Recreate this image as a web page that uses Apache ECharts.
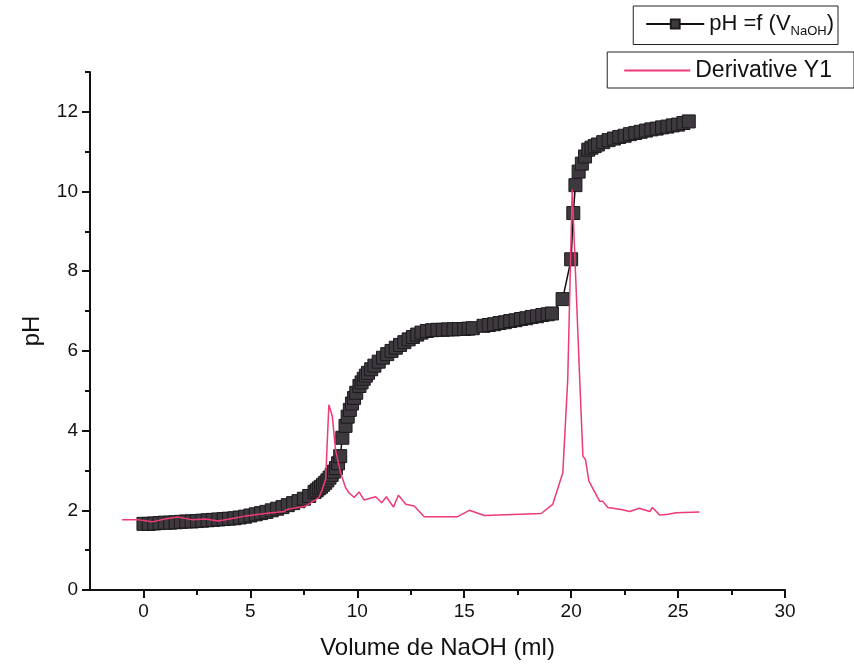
<!DOCTYPE html>
<html lang="en">
<head>
    <meta charset="UTF-8">
    <title>pH titration</title>
    <script src="https://cdn.jsdelivr.net/npm/echarts@6/dist/echarts.min.js"></script>
    <style>
        html, body { margin: 0; padding: 0; background: #fff; }
        #main { width: 854px; height: 665px; }
    </style>
</head>
<body>
<div id="main"></div>
<script>
    // volume NaOH (ml) and pH
    var volume = [0, 0.25, 0.5, 0.75, 1, 1.25, 1.5, 1.75, 2, 2.25, 2.5, 2.75, 3, 3.25, 3.5, 3.75, 4, 4.25, 4.5, 4.75,
        5, 5.25, 5.5, 5.75, 6, 6.25, 6.5, 6.75, 7, 7.25, 7.5, 7.75, 8, 8.1, 8.2, 8.3, 8.4, 8.5, 8.6, 8.7,
        8.8, 8.9, 9, 9.1, 9.2, 9.3, 9.45, 9.55, 9.65, 9.75, 9.85, 9.95, 10.1, 10.2, 10.3, 10.4, 10.5, 10.65, 10.8, 11,
        11.2, 11.4, 11.6, 11.8, 12, 12.2, 12.4, 12.6, 12.8, 13, 13.25, 13.5, 13.75, 14, 14.25, 14.5, 14.75, 15, 15.2, 15.4,
        15.9, 16.15, 16.4, 16.65, 16.9, 17.15, 17.4, 17.65, 17.9, 18.15, 18.4, 18.65, 18.9, 19.1, 19.6, 20, 20.1, 20.2, 20.35, 20.5,
        20.65, 20.8, 20.95, 21.1, 21.25, 21.5, 21.75, 22, 22.25, 22.5, 22.75, 23, 23.25, 23.5, 23.75, 24, 24.25, 24.5, 24.75, 25,
        25.25, 25.5];
    var ph = [1.66, 1.66, 1.67, 1.68, 1.69, 1.69, 1.70, 1.71, 1.72, 1.72, 1.73, 1.74, 1.75, 1.76, 1.77, 1.78, 1.79, 1.80, 1.82, 1.84,
        1.87, 1.90, 1.93, 1.96, 2.0, 2.04, 2.08, 2.13, 2.18, 2.23, 2.29, 2.36, 2.46, 2.5, 2.55, 2.59, 2.64, 2.69, 2.75, 2.82,
        2.89, 2.97, 3.06, 3.18, 3.36, 3.82, 4.12, 4.35, 4.52, 4.68, 4.82, 4.95, 5.12, 5.21, 5.3, 5.38, 5.45, 5.54, 5.63, 5.73,
        5.83, 5.92, 6.0, 6.08, 6.15, 6.22, 6.29, 6.35, 6.41, 6.46, 6.5, 6.52, 6.53, 6.53, 6.54, 6.54, 6.55, 6.55, 6.56, 6.57,
        6.63, 6.65, 6.67, 6.7, 6.72, 6.75, 6.77, 6.8, 6.82, 6.85, 6.87, 6.9, 6.92, 6.94, 7.3, 8.3, 9.46, 10.16, 10.5, 10.7,
        10.88, 11.05, 11.1, 11.14, 11.18, 11.24, 11.29, 11.33, 11.37, 11.4, 11.44, 11.47, 11.5, 11.53, 11.56, 11.58, 11.61, 11.63, 11.66, 11.68,
        11.72, 11.76];

    // derivative trace (drawn on the same scale)
    var volumeD = [-1, -0.2, 0.4, 1, 1.6, 2.3, 2.9, 3.5, 4.1, 4.8, 5.4, 6, 6.6, 6.7, 7.6, 8.2, 8.36, 8.52, 8.67, 8.83,
        8.98, 9.22, 9.45, 9.61, 9.85, 10.08, 10.31, 10.86, 11.14, 11.36, 11.69, 11.92, 12.27, 12.66, 13.13, 14.69, 15.24, 15.94, 18.6, 19.14,
        19.61, 19.84, 20.05, 20.4, 20.55, 20.67, 20.83, 21.33, 21.47, 21.72, 22.34, 22.74, 23.18, 23.68, 23.8, 24.14, 24.53, 24.92, 26];
    var deriv = [1.76, 1.76, 1.71, 1.78, 1.83, 1.76, 1.78, 1.73, 1.79, 1.86, 1.9, 1.94, 1.97, 2.02, 2.11, 2.32, 2.52, 2.78, 4.65, 4.36,
        3.52, 2.94, 2.57, 2.44, 2.32, 2.46, 2.26, 2.34, 2.19, 2.34, 2.08, 2.38, 2.15, 2.11, 1.84, 1.84, 2.0, 1.87, 1.92, 2.15,
        2.94, 5.28, 10.05, 5.28, 3.36, 3.27, 2.73, 2.23, 2.23, 2.07, 2.02, 1.97, 2.05, 1.97, 2.07, 1.88, 1.9, 1.94, 1.96];

    // tick labels
    var xMajor = [0, 5, 10, 15, 20, 25, 30];
    var xMinor = [2.5, 7.5, 12.5, 17.5, 22.5, 27.5];
    var yMajor = [0, 2, 4, 6, 8, 10, 12];
    var yMinor = [1, 3, 5, 7, 9, 11, 13];

    var phData = [];
    for (var i = 0; i < volume.length; i++) phData.push([volume[i], ph[i]]);
    var derivData = [];
    for (var j = 0; j < volumeD.length; j++) derivData.push([volumeD[j], deriv[j]]);

    var font = 'Liberation Sans, Arial, sans-serif';

    var myChart = echarts.init(document.getElementById('main'));
    var option = {
        animation: false,
        backgroundColor: '#fff',
        textStyle: { fontFamily: font },
        grid: { left: 90, right: 69, top: 72, bottom: 74 },
        legend: [
            {
                right: 16, top: 6,
                data: ['pH'],
                borderColor: '#222', borderWidth: 1, borderRadius: 0,
                padding: [7, 4, 7, 12],
                itemWidth: 58, itemHeight: 11,
                formatter: function () {
                    return '{a|pH =f (V}{s|NaOH}{a|)}';
                },
                textStyle: {
                    color: '#111', fontFamily: font,
                    rich: {
                        a: { fontSize: 22, fontFamily: font, color: '#111' },
                        s: { fontSize: 13, fontFamily: font, color: '#111', verticalAlign: 'bottom', padding: [14, 0, 0, 0] }
                    }
                }
            },
            {
                right: 0, top: 52,
                data: [{ name: 'Derivative Y1', icon: 'rect' }],
                borderColor: '#222', borderWidth: 1, borderRadius: 0,
                padding: [7, 22, 6, 17],
                itemWidth: 66, itemHeight: 2,
                textStyle: { fontSize: 23, color: '#111', fontFamily: font }
            }
        ],
        xAxis: [
            {
                type: 'value', min: -2.5, max: 30,
                name: 'Volume de NaOH (ml)', nameLocation: 'middle', nameGap: 46,
                nameTextStyle: { fontSize: 24, color: '#111', fontFamily: font },
                axisLine: { onZero: false, lineStyle: { color: '#111', width: 2 } },
                axisTick: { show: true, customValues: xMajor, length: 8, lineStyle: { color: '#111', width: 2 } },
                axisLabel: { customValues: xMajor, fontSize: 19, color: '#111', margin: 12, fontFamily: font },
                splitLine: { show: false }
            },
            {
                type: 'value', min: -2.5, max: 30, position: 'bottom',
                axisLine: { show: false, onZero: false },
                axisTick: { show: true, customValues: xMinor, length: 5, lineStyle: { color: '#111', width: 2 } },
                axisLabel: { show: false },
                splitLine: { show: false }
            }
        ],
        yAxis: [
            {
                type: 'value', min: 0, max: 13,
                name: 'pH', nameLocation: 'middle', nameGap: 46, nameRotate: 90,
                nameTextStyle: { fontSize: 24, color: '#111', fontFamily: font },
                axisLine: { show: true, onZero: false, lineStyle: { color: '#111', width: 2 } },
                axisTick: { show: true, customValues: yMajor, length: 8, lineStyle: { color: '#111', width: 2 } },
                axisLabel: { customValues: yMajor, fontSize: 19, color: '#111', margin: 12, fontFamily: font },
                splitLine: { show: false }
            },
            {
                type: 'value', min: 0, max: 13, position: 'left', offset: 0,
                axisLine: { show: false, onZero: false },
                axisTick: { show: true, customValues: yMinor, length: 5, lineStyle: { color: '#111', width: 2 } },
                axisLabel: { show: false },
                splitLine: { show: false }
            }
        ],
        series: [
            {
                name: 'pH',
                type: 'line',
                xAxisIndex: 0, yAxisIndex: 0,
                data: phData,
                symbol: 'rect',
                symbolSize: 13,
                showAllSymbol: true,
                lineStyle: { color: '#111', width: 1.5 },
                itemStyle: { color: '#3e393f', borderColor: '#1c1a1d', borderWidth: 1 },
                z: 2
            },
            {
                name: 'Derivative Y1',
                type: 'line',
                xAxisIndex: 0, yAxisIndex: 0,
                data: derivData,
                symbol: 'none',
                lineStyle: { color: '#ee3b73', width: 1.5 },
                itemStyle: { color: '#ee3b73' },
                z: 3
            }
        ]
    };
    myChart.setOption(option);
</script>
</body>
</html>
